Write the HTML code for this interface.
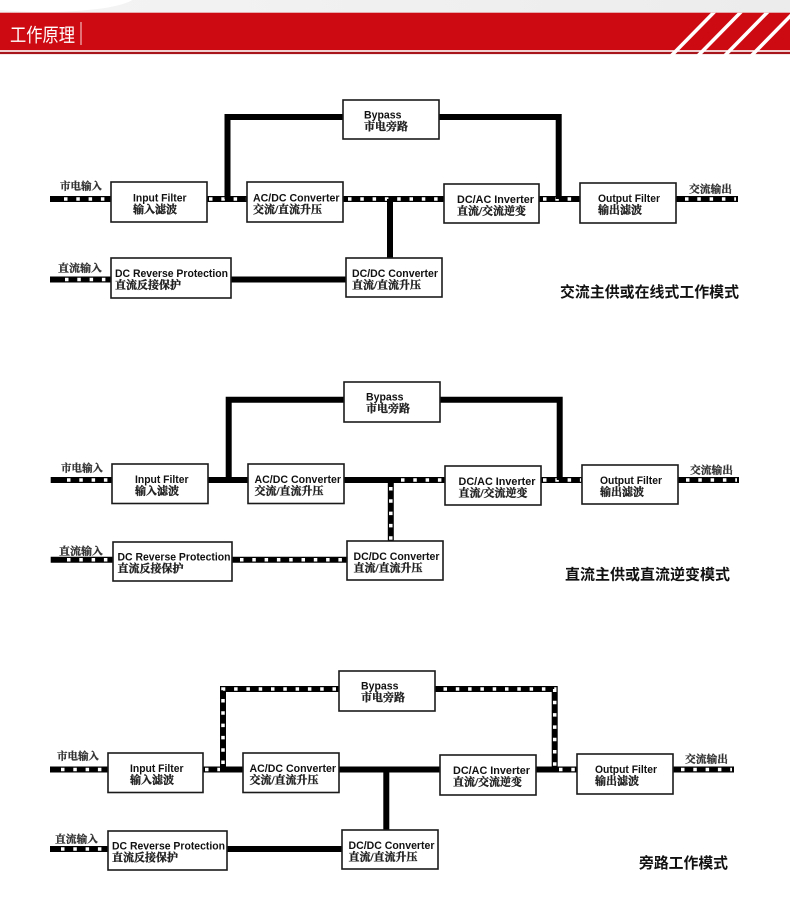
<!DOCTYPE html>
<html><head><meta charset="utf-8"><style>
html,body{margin:0;padding:0;background:#fff}
body{width:790px;height:897px;overflow:hidden}
.en{font-family:"Liberation Sans",Arial,sans-serif;font-weight:bold;font-size:11px;fill:#111}
.cn{font-family:"Liberation Serif","Noto Serif CJK SC",serif;font-weight:bold;font-size:11px;fill:#222;stroke:#222;stroke-width:0.35}
.lb{font-family:"Liberation Serif","Noto Serif CJK SC",serif;font-weight:bold;font-size:10.5px;fill:#333;stroke:#333;stroke-width:0.3}
.tt{font-family:"Liberation Sans","Noto Sans CJK SC",sans-serif;font-weight:bold;font-size:15px;fill:#111}
.bk{stroke:#000;stroke-width:6;fill:none;stroke-linejoin:miter}
.dt{stroke:#fff;stroke-width:3.5;stroke-dasharray:3.5 8.8;fill:none}
.bx{fill:#fff;stroke:#1a1a1a;stroke-width:1.6}
</style></head><body>
<svg width="790" height="897" viewBox="0 0 790 897" xmlns="http://www.w3.org/2000/svg">
<defs><linearGradient id="g" x1="0" y1="0" x2="1" y2="0"><stop offset="0" stop-color="#f4f4f4"/><stop offset="1" stop-color="#ececec"/></linearGradient></defs>
<!-- header -->
<rect x="0" y="0" width="790" height="13" fill="url(#g)"/>
<ellipse cx="45" cy="-4" rx="90" ry="16" fill="#fff"/>
<rect x="0" y="12.7" width="790" height="37.5" fill="#cd0a12"/>
<rect x="0" y="51.8" width="790" height="2.3" fill="#a8161c"/>
<polygon points="670,54.5 675,54.5 716,12.7 711,12.7" fill="#fff"/>
<polygon points="696.7,54.5 701.7,54.5 742.7,12.7 737.7,12.7" fill="#fff"/>
<polygon points="723.4,54.5 728.4,54.5 769.4,12.7 764.4,12.7" fill="#fff"/>
<polygon points="750.1,54.5 755.1,54.5 796.1,12.7 791.1,12.7" fill="#fff"/>
<text x="10" y="41.5" font-family="'Liberation Sans','Noto Sans CJK SC',sans-serif" font-size="19" fill="#fff" textLength="65" lengthAdjust="spacingAndGlyphs">工作原理</text>
<rect x="80.5" y="22" width="1" height="23" fill="#fff" opacity="0.85"/>

<!-- ================= Diagram 1 ================= -->
<path class="bk" d="M50 199H738"/>
<path class="dt" d="M64 199H110"/>
<path class="dt" d="M209 199H246"/>
<path class="dt" d="M348 199H443"/>
<path class="dt" d="M543 199H579"/>
<path class="dt" d="M685 199H736"/>
<path class="bk" d="M227.5 199V117H343"/>
<path class="bk" d="M439 117H558.7V199"/>
<path class="bk" d="M390 199V258"/>
<path class="bk" d="M50 279.5H346"/>
<path class="dt" d="M65 279.5H110"/>

<rect class="bx" x="111" y="182" width="96" height="40"/>
<rect class="bx" x="247" y="182" width="96" height="40"/>
<rect class="bx" x="343" y="100" width="96" height="39"/>
<rect class="bx" x="444" y="184" width="95" height="39"/>
<rect class="bx" x="580" y="183" width="96" height="40"/>
<rect class="bx" x="111" y="258" width="120" height="40"/>
<rect class="bx" x="346" y="258" width="96" height="39"/>

<text class="en" x="133" y="201.3" textLength="53.5" lengthAdjust="spacingAndGlyphs">Input Filter</text>
<text class="cn" x="133" y="212.8">输入滤波</text>
<text class="en" x="253" y="201.3" textLength="86.5" lengthAdjust="spacingAndGlyphs">AC/DC Converter</text>
<text class="cn" x="253" y="212.8">交流/直流升压</text>
<text class="en" x="364" y="118.3" textLength="37.5" lengthAdjust="spacingAndGlyphs">Bypass</text>
<text class="cn" x="364" y="129.8">市电旁路</text>
<text class="en" x="457" y="202.8" textLength="77" lengthAdjust="spacingAndGlyphs">DC/AC Inverter</text>
<text class="cn" x="457" y="214.3">直流/交流逆变</text>
<text class="en" x="598" y="201.8" textLength="62" lengthAdjust="spacingAndGlyphs">Output Filter</text>
<text class="cn" x="598" y="213.3">输出滤波</text>
<text class="en" x="115" y="276.8" textLength="113" lengthAdjust="spacingAndGlyphs">DC Reverse Protection</text>
<text class="cn" x="115" y="288.3">直流反接保护</text>
<text class="en" x="352" y="276.8" textLength="86" lengthAdjust="spacingAndGlyphs">DC/DC Converter</text>
<text class="cn" x="352" y="288.3">直流/直流升压</text>

<text class="lb" x="60" y="189.5" textLength="42" lengthAdjust="spacingAndGlyphs">市电输入</text>
<text class="lb" x="58" y="271.5" textLength="44" lengthAdjust="spacingAndGlyphs">直流输入</text>
<text class="lb" x="689" y="192.5" textLength="43" lengthAdjust="spacingAndGlyphs">交流输出</text>
<text class="tt" x="560" y="297" textLength="179" lengthAdjust="spacingAndGlyphs">交流主供或在线式工作模式</text>

<!-- ================= Diagram 2 ================= -->
<path class="bk" d="M50.7 480H739"/>
<path class="dt" d="M67 480H111"/>
<path class="dt" d="M401 480H444"/>
<path class="dt" d="M543 480H581"/>
<path class="dt" d="M686 480H737"/>
<path class="bk" d="M228.7 480V399.7H344"/>
<path class="bk" d="M440 399.7H559.7V480"/>
<path class="bk" d="M390.8 480V541"/>
<path class="dt" d="M390.8 487V540"/>
<path class="bk" d="M50.7 559.7H347.3"/>
<path class="dt" d="M67 559.7H112"/>
<path class="dt" d="M240 559.7H346"/>

<rect class="bx" x="112" y="464" width="96" height="39.5"/>
<rect class="bx" x="248" y="464" width="96" height="39.5"/>
<rect class="bx" x="344" y="382" width="96" height="40"/>
<rect class="bx" x="445" y="466" width="96" height="39"/>
<rect class="bx" x="582" y="465" width="96" height="39"/>
<rect class="bx" x="113" y="542" width="119" height="39"/>
<rect class="bx" x="347" y="541" width="96" height="39"/>

<text class="en" x="135" y="483.1" textLength="53.5" lengthAdjust="spacingAndGlyphs">Input Filter</text>
<text class="cn" x="135" y="494.6">输入滤波</text>
<text class="en" x="254.5" y="483.1" textLength="86.5" lengthAdjust="spacingAndGlyphs">AC/DC Converter</text>
<text class="cn" x="254.5" y="494.6">交流/直流升压</text>
<text class="en" x="366" y="400.3" textLength="37.5" lengthAdjust="spacingAndGlyphs">Bypass</text>
<text class="cn" x="366" y="411.8">市电旁路</text>
<text class="en" x="458.5" y="484.8" textLength="77" lengthAdjust="spacingAndGlyphs">DC/AC Inverter</text>
<text class="cn" x="458.5" y="496.3">直流/交流逆变</text>
<text class="en" x="600" y="483.8" textLength="62" lengthAdjust="spacingAndGlyphs">Output Filter</text>
<text class="cn" x="600" y="495.3">输出滤波</text>
<text class="en" x="117.5" y="560.3" textLength="113" lengthAdjust="spacingAndGlyphs">DC Reverse Protection</text>
<text class="cn" x="117.5" y="571.8">直流反接保护</text>
<text class="en" x="353.5" y="559.8" textLength="86" lengthAdjust="spacingAndGlyphs">DC/DC Converter</text>
<text class="cn" x="353.5" y="571.3">直流/直流升压</text>

<text class="lb" x="61" y="471.5" textLength="42" lengthAdjust="spacingAndGlyphs">市电输入</text>
<text class="lb" x="59" y="554.5" textLength="44" lengthAdjust="spacingAndGlyphs">直流输入</text>
<text class="lb" x="690" y="473.5" textLength="43" lengthAdjust="spacingAndGlyphs">交流输出</text>
<text class="tt" x="565" y="579.5" textLength="165" lengthAdjust="spacingAndGlyphs">直流主供或直流逆变模式</text>

<!-- ================= Diagram 3 ================= -->
<path class="bk" d="M50 769.5H734"/>
<path class="dt" d="M61 769.5H107"/>
<path class="dt" d="M205 769.5H220"/>
<path class="dt" d="M559 769.5H576"/>
<path class="dt" d="M681 769.5H732"/>
<path class="bk" d="M223 769.5V689H339.3"/>
<path class="dt" d="M223 764V689H338"/>
<path class="bk" d="M435 689H554.7V769.5"/>
<path class="dt" d="M443.5 689H554.7V766"/>
<path class="bk" d="M386.3 769.5V830"/>
<path class="bk" d="M50 849H342"/>
<path class="dt" d="M61 849H107"/>

<rect class="bx" x="108" y="753" width="95" height="39.5"/>
<rect class="bx" x="243" y="753" width="96" height="39.5"/>
<rect class="bx" x="339" y="671" width="96" height="40"/>
<rect class="bx" x="440" y="755" width="96" height="40"/>
<rect class="bx" x="577" y="754" width="96" height="40"/>
<rect class="bx" x="108" y="831" width="119" height="39"/>
<rect class="bx" x="342" y="830" width="96" height="39"/>

<text class="en" x="130" y="772.1" textLength="53.5" lengthAdjust="spacingAndGlyphs">Input Filter</text>
<text class="cn" x="130" y="783.6">输入滤波</text>
<text class="en" x="249.5" y="772.1" textLength="86.5" lengthAdjust="spacingAndGlyphs">AC/DC Converter</text>
<text class="cn" x="249.5" y="783.6">交流/直流升压</text>
<text class="en" x="361" y="689.3" textLength="37.5" lengthAdjust="spacingAndGlyphs">Bypass</text>
<text class="cn" x="361" y="700.8">市电旁路</text>
<text class="en" x="453" y="773.8" textLength="77" lengthAdjust="spacingAndGlyphs">DC/AC Inverter</text>
<text class="cn" x="453" y="785.3">直流/交流逆变</text>
<text class="en" x="595" y="772.8" textLength="62" lengthAdjust="spacingAndGlyphs">Output Filter</text>
<text class="cn" x="595" y="784.3">输出滤波</text>
<text class="en" x="112" y="849.3" textLength="113" lengthAdjust="spacingAndGlyphs">DC Reverse Protection</text>
<text class="cn" x="112" y="860.8">直流反接保护</text>
<text class="en" x="348.5" y="848.8" textLength="86" lengthAdjust="spacingAndGlyphs">DC/DC Converter</text>
<text class="cn" x="348.5" y="860.3">直流/直流升压</text>

<text class="lb" x="57" y="759.5" textLength="42" lengthAdjust="spacingAndGlyphs">市电输入</text>
<text class="lb" x="55" y="842.5" textLength="43" lengthAdjust="spacingAndGlyphs">直流输入</text>
<text class="lb" x="685" y="762.5" textLength="43" lengthAdjust="spacingAndGlyphs">交流输出</text>
<text class="tt" x="639" y="868" textLength="89" lengthAdjust="spacingAndGlyphs">旁路工作模式</text>
</svg>
</body></html>
